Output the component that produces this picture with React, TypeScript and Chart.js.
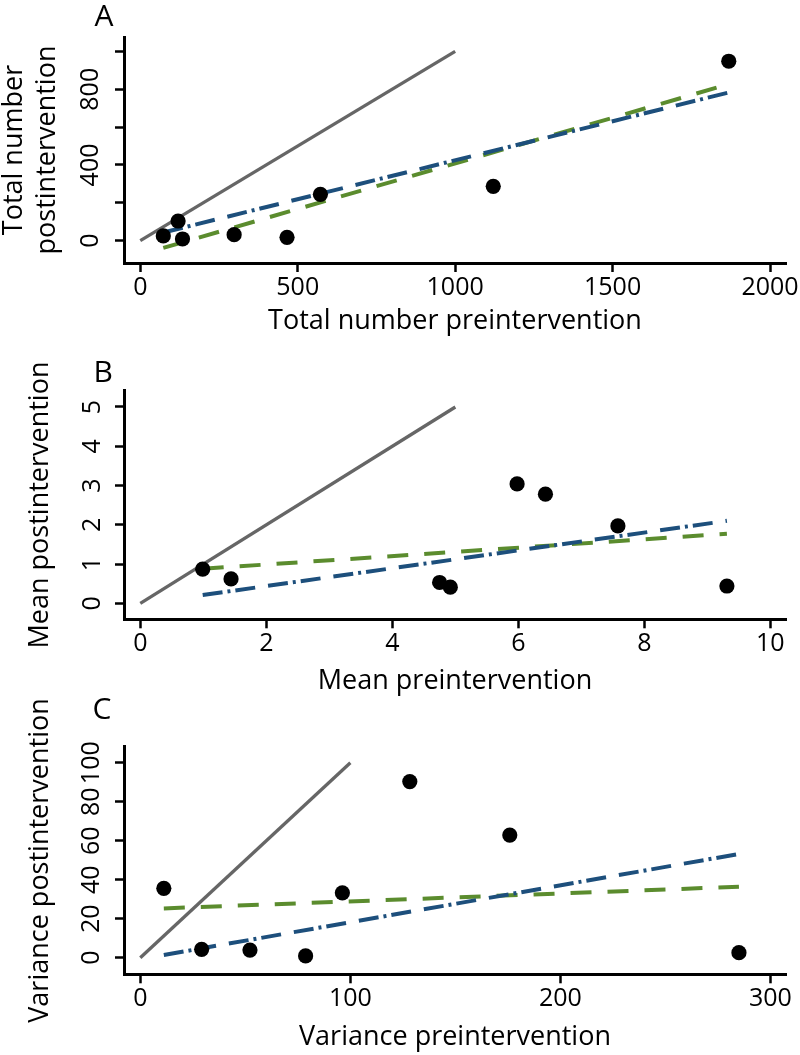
import React, { useEffect, useRef } from "react";
import { Chart, registerables } from "chart.js";

Chart.register(...registerables);

const FONT = '"Open Sans", "Noto Sans", "DejaVu Sans", sans-serif';
const GRAY = "#666666";
const GREEN = "#5b8c2e";
const BLUE = "#1d4f7c";

// ---------- Panel A ----------
const A_LETTER = "A";
const A_X_TITLE = "Total number preintervention";
const A_Y_TITLE = ["Total number", "postintervention"];
const A_PRE = [73, 120, 134, 298, 466, 572, 1121, 1869];
const A_POST = [25, 104, 9, 32, 18, 245, 287, 948];
const A_IDENTITY = [0, 1000];
const A_FIT_X = [73, 1869];
const A_GREEN_Y = [-38, 827];
const A_BLUE_Y = [43, 783];
const A_X_TICKS = [0, 500, 1000, 1500, 2000];
const A_X_LABELS = ["0", "500", "1000", "1500", "2000"];
const A_Y_TICKS = [0, 200, 400, 600, 800, 1000];
const A_Y_LABELS = ["0", "", "400", "", "800", ""];

// ---------- Panel B ----------
const B_LETTER = "B";
const B_X_TITLE = "Mean preintervention";
const B_Y_TITLE = "Mean postintervention";
const B_PRE = [0.99, 1.44, 4.75, 4.92, 5.98, 6.43, 7.58, 9.31];
const B_POST = [0.87, 0.62, 0.53, 0.41, 3.04, 2.78, 1.97, 0.44];
const B_IDENTITY = [0, 5];
const B_FIT_X = [0.99, 9.31];
const B_GREEN_Y = [0.88, 1.77];
const B_BLUE_Y = [0.21, 2.1];
const B_X_TICKS = [0, 2, 4, 6, 8, 10];
const B_X_LABELS = ["0", "2", "4", "6", "8", "10"];
const B_Y_TICKS = [0, 1, 2, 3, 4, 5];
const B_Y_LABELS = ["0", "1", "2", "3", "4", "5"];

// ---------- Panel C ----------
const C_LETTER = "C";
const C_X_TITLE = "Variance preintervention";
const C_Y_TITLE = "Variance postintervention";
const C_PRE = [11.2, 29.2, 52.2, 78.7, 96.2, 128.3, 175.9, 285];
const C_POST = [35.6, 4.3, 3.9, 0.9, 33.3, 90.3, 62.9, 2.6];
const C_IDENTITY = [0, 100];
const C_FIT_X = [11.2, 285];
const C_GREEN_Y = [25.3, 36.4];
const C_BLUE_Y = [1.4, 53.2];
const C_X_TICKS = [0, 100, 200, 300];
const C_X_LABELS = ["0", "100", "200", "300"];
const C_Y_TICKS = [0, 20, 40, 60, 80, 100];
const C_Y_LABELS = ["0", "20", "40", "60", "80", "100"];

type Layout = {
  top: number;
  height: number;
  areaTop: number;
  areaBottom: number;
  xMin: number;
  xMax: number;
  yMin: number;
  yMax: number;
  yTickPad: number;
  yTitlePad: number;
  xTitlePad: number;
  letterX: number;
  letterBaseline: number;
};

type Spec = {
  letter: string;
  xTitle: string;
  yTitle: string | string[];
  pre: number[];
  post: number[];
  identity: number[];
  fitX: number[];
  greenY: number[];
  blueY: number[];
  xTicks: number[];
  xLabels: string[];
  yTicks: number[];
  yLabels: string[];
  layout: Layout;
};

const PANELS: Spec[] = [
  {
    letter: A_LETTER, xTitle: A_X_TITLE, yTitle: A_Y_TITLE, pre: A_PRE, post: A_POST,
    identity: A_IDENTITY, fitX: A_FIT_X, greenY: A_GREEN_Y, blueY: A_BLUE_Y,
    xTicks: A_X_TICKS, xLabels: A_X_LABELS, yTicks: A_Y_TICKS, yLabels: A_Y_LABELS,
    layout: {
      top: 0, height: 345, areaTop: 37, areaBottom: 263,
      xMin: -51.8, xMax: 2050.8, yMin: -117.8, yMax: 1076,
      yTickPad: 2.75, yTitlePad: -2.15, xTitlePad: 7.35, letterX: 94.5, letterBaseline: 25.5,
    },
  },
  {
    letter: B_LETTER, xTitle: B_X_TITLE, yTitle: B_Y_TITLE, pre: B_PRE, post: B_POST,
    identity: B_IDENTITY, fitX: B_FIT_X, greenY: B_GREEN_Y, blueY: B_BLUE_Y,
    xTicks: B_X_TICKS, xLabels: B_X_LABELS, yTicks: B_Y_TICKS, yLabels: B_Y_LABELS,
    layout: {
      top: 330, height: 370, areaTop: 60.7, areaBottom: 289.3,
      xMin: -0.259, xMax: 10.248, yMin: -0.408, yMax: 5.415,
      yTickPad: 14.85, yTitlePad: 23.85, xTitlePad: 2.35, letterX: 93.5, letterBaseline: 52,
    },
  },
  {
    letter: C_LETTER, xTitle: C_X_TITLE, yTitle: C_Y_TITLE, pre: C_PRE, post: C_POST,
    identity: C_IDENTITY, fitX: C_FIT_X, greenY: C_GREEN_Y, blueY: C_BLUE_Y,
    xTicks: C_X_TICKS, xLabels: C_X_LABELS, yTicks: C_Y_TICKS, yLabels: C_Y_LABELS,
    layout: {
      top: 685, height: 370, areaTop: 61.7, areaBottom: 289.3,
      xMin: -7.76, xMax: 307.4, yMin: -8.5, yMax: 108.2,
      yTickPad: 1.55, yTitlePad: 23.85, xTitlePad: 0.85, letterX: 92.5, letterBaseline: 33.5,
    },
  },
];

function Panel({ spec }: { spec: Spec }) {
  const ref = useRef<HTMLCanvasElement | null>(null);
  const L = spec.layout;

  useEffect(() => {
    if (!ref.current) return;
    const letterPlugin = {
      id: "panelLetter",
      afterDraw(chart: any) {
        const ctx = chart.ctx;
        ctx.save();
        ctx.font = `30px ${FONT}`;
        ctx.fillStyle = "#000";
        ctx.textAlign = "left";
        ctx.textBaseline = "alphabetic";
        ctx.fillText(spec.letter, L.letterX, L.letterBaseline);
        ctx.restore();
      },
    };

    const points = spec.pre.map((x, i) => ({ x, y: spec.post[i] }));
    const identity = spec.identity.map((v) => ({ x: v, y: v }));
    const green = spec.fitX.map((x, i) => ({ x, y: spec.greenY[i] }));
    const blue = spec.fitX.map((x, i) => ({ x, y: spec.blueY[i] }));

    const tickFont = { family: FONT, size: 25, lineHeight: 1.2 };
    const titleFont = { family: FONT, size: 27, lineHeight: 1.233 };

    const chart = new Chart(ref.current, {
      type: "scatter",
      data: {
        datasets: [
          {
            label: "Observed",
            data: points,
            pointRadius: 7.6,
            pointHoverRadius: 7.6,
            pointBackgroundColor: "#000",
            pointBorderWidth: 0,
            showLine: false,
          },
          {
            label: "Fit (dash-dot)",
            data: blue,
            showLine: true,
            borderColor: BLUE,
            borderWidth: 4,
            borderDash: [20, 5, 3, 5, 20, 13],
            borderCapStyle: "butt",
            pointRadius: 0,
            fill: false,
          },
          {
            label: "Fit (dashed)",
            data: green,
            showLine: true,
            borderColor: GREEN,
            borderWidth: 4,
            borderDash: [21, 16],
            borderCapStyle: "butt",
            pointRadius: 0,
            fill: false,
          },
          {
            label: "Identity",
            data: identity,
            showLine: true,
            borderColor: GRAY,
            borderWidth: 3.3,
            pointRadius: 0,
            fill: false,
          },
        ],
      },
      options: {
        responsive: false,
        animation: false,
        devicePixelRatio: 1,
        events: [],
        layout: { padding: { left: 0, top: L.areaTop, right: 14, bottom: 0 } },
        plugins: {
          legend: { display: false },
          tooltip: { enabled: false },
          title: { display: false },
        },
        scales: {
          x: {
            type: "linear",
            position: "bottom",
            min: L.xMin,
            max: L.xMax,
            afterFit: (s: any) => {
              s.height = L.height - L.areaBottom;
            },
            afterBuildTicks: (s: any) => {
              s.ticks = spec.xTicks.map((v) => ({ value: v }));
            },
            ticks: {
              autoSkip: false,
              minRotation: 0,
              maxRotation: 0,
              padding: 1,
              color: "#000",
              font: tickFont,
              callback: (_v: any, i: number) => spec.xLabels[i],
            },
            grid: {
              drawOnChartArea: false,
              drawTicks: true,
              tickLength: 9,
              tickWidth: 2.5,
              tickColor: "#000",
            },
            border: { display: true, color: "#000", width: 3 },
            title: {
              display: true,
              text: spec.xTitle,
              color: "#000",
              font: titleFont,
              padding: { top: 0, bottom: L.xTitlePad },
            },
          },
          y: {
            type: "linear",
            position: "left",
            min: L.yMin,
            max: L.yMax,
            afterFit: (s: any) => {
              s.width = 124;
            },
            afterBuildTicks: (s: any) => {
              s.ticks = spec.yTicks.map((v) => ({ value: v }));
            },
            ticks: {
              autoSkip: false,
              minRotation: 90,
              maxRotation: 90,
              crossAlign: "center",
              padding: L.yTickPad,
              color: "#000",
              font: tickFont,
              callback: (_v: any, i: number) => spec.yLabels[i],
            },
            grid: {
              drawOnChartArea: false,
              drawTicks: true,
              tickLength: 9,
              tickWidth: 2.5,
              tickColor: "#000",
            },
            border: { display: true, color: "#000", width: 3 },
            title: {
              display: true,
              text: spec.yTitle,
              color: "#000",
              font: titleFont,
              padding: { top: L.yTitlePad, bottom: 0 },
            },
          },
        },
      } as any,
      plugins: [letterPlugin],
    });
    return () => chart.destroy();
  }, [spec]);

  return (
    <canvas
      ref={ref}
      width={800}
      height={L.height}
      style={{ position: "absolute", left: 0, top: L.top, display: "block" }}
    />
  );
}

export default function App() {
  return (
    <div
      style={{
        position: "absolute",
        left: 0,
        top: 0,
        width: 800,
        height: 1055,
        background: "#fff",
        overflow: "hidden",
      }}
    >
      {PANELS.map((p) => (
        <Panel key={p.letter} spec={p} />
      ))}
    </div>
  );
}
